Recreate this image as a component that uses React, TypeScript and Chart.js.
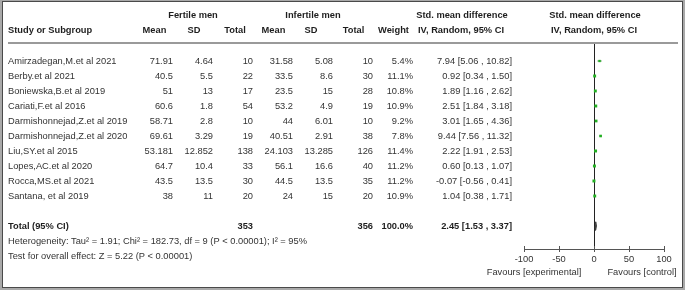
import React, { useEffect, useRef } from "react";
import { Chart, registerables } from "chart.js";
Chart.register(...registerables);

// ---- data ----
const studies = [
  "Amirzadegan,M.et al 2021",
  "Berby.et al 2021",
  "Boniewska,B.et al 2019",
  "Cariati,F.et al 2016",
  "Darmishonnejad,Z.et al 2019",
  "Darmishonnejad,Z.et al 2020",
  "Liu,SY.et al 2015",
  "Lopes,AC.et al 2020",
  "Rocca,MS.et al 2021",
  "Santana, et al 2019",
];
const fertMean = [71.91, 40.5, 51, 60.6, 58.71, 69.61, 53.181, 64.7, 43.5, 38];
const fertSD = [4.64, 5.5, 13, 1.8, 2.8, 3.29, 12.852, 10.4, 13.5, 11];
const fertN = [10, 22, 17, 54, 10, 19, 138, 33, 30, 20];
const infMean = [31.58, 33.5, 23.5, 53.2, 44, 40.51, 24.103, 56.1, 44.5, 24];
const infSD = [5.08, 8.6, 15, 4.9, 6.01, 2.91, 13.285, 16.6, 13.5, 15];
const infN = [10, 30, 28, 19, 10, 38, 126, 40, 35, 20];
const weights = [5.4, 11.1, 10.8, 10.9, 9.2, 7.8, 11.4, 11.2, 11.2, 10.9];
const smd = [7.94, 0.92, 1.89, 2.51, 3.01, 9.44, 2.22, 0.6, -0.07, 1.04];
const ciLow = [5.06, 0.34, 1.16, 1.84, 1.65, 7.56, 1.91, 0.13, -0.56, 0.38];
const ciHigh = [10.82, 1.5, 2.62, 3.18, 4.36, 11.32, 2.53, 1.07, 0.41, 1.71];

const totalFertN = 353;
const totalInfN = 356;
const totalWeight = 100.0;
const pooled = [2.45, 1.53, 3.37]; // estimate, low, high
const hetTau2 = 1.91;
const hetChi2 = 182.73;
const hetDf = 9;
const hetP = "P < 0.00001";
const hetI2 = 95;
const overallZ = 5.22;
const overallP = "P < 0.00001";
const xTicks = [-100, -50, 0, 50, 100];
const favourLabels = ["Favours [experimental]", "Favours [control]"];

const FONT = '"Liberation Sans", Arial, sans-serif';
const FS = 9.3;
const TEXT = "#333333";
const HEAD = "#1e1e1e";

const fmt2 = (v: number) => v.toFixed(2);
const ciText = (e: number, l: number, h: number) => `${fmt2(e)} [${fmt2(l)} , ${fmt2(h)}]`;

export default function App() {
  const ref = useRef<HTMLCanvasElement>(null);

  useEffect(() => {
    const canvas = ref.current;
    if (!canvas) return;

    const totalRow = studies.length + 1;

    const drawText = (
      ctx: CanvasRenderingContext2D,
      s: string,
      x: number,
      y: number,
      align: CanvasTextAlign,
      bold = false,
      color = TEXT
    ) => {
      ctx.font = `${bold ? "bold " : ""}${FS}px ${FONT}`;
      ctx.fillStyle = color;
      ctx.textAlign = align;
      ctx.textBaseline = "middle";
      ctx.fillText(s, x, y);
    };

    const tablePlugin = {
      id: "forestTable",
      beforeDraw(chart: any) {
        const ctx = chart.ctx as CanvasRenderingContext2D;
        ctx.save();
        ctx.fillStyle = "#a9a9a9";
        ctx.fillRect(0, 0, 685, 290);
        ctx.fillStyle = "#ffffff";
        ctx.fillRect(3, 2, 679, 285);
        ctx.strokeStyle = "#4a4a4a";
        ctx.lineWidth = 1;
        ctx.strokeRect(2.5, 1.5, 680, 286);
        // header rule
        ctx.fillStyle = "#9a9a9a";
        ctx.fillRect(8, 42, 670, 2);
        ctx.restore();
      },
      afterDraw(chart: any) {
        const ctx = chart.ctx as CanvasRenderingContext2D;
        const ys = chart.scales.y;
        const xs = chart.scales.x;
        ctx.save();

        // headers
        drawText(ctx, "Fertile men", 193, 15, "center", true, HEAD);
        drawText(ctx, "Infertile men", 313, 15, "center", true, HEAD);
        drawText(ctx, "Std. mean difference", 462, 15, "center", true, HEAD);
        drawText(ctx, "Std. mean difference", 595, 15, "center", true, HEAD);
        drawText(ctx, "Study or Subgroup", 8, 30, "left", true, HEAD);
        const hdr = ["Mean", "SD", "Total", "Mean", "SD", "Total", "Weight"];
        const hdrX = [154.5, 194, 235, 273.5, 311, 353.5, 393.5];
        hdr.forEach((h, i) => drawText(ctx, h, hdrX[i], 30, "center", true, HEAD));
        drawText(ctx, "IV, Random, 95% CI", 461, 30, "center", true, HEAD);
        drawText(ctx, "IV, Random, 95% CI", 594, 30, "center", true, HEAD);

        // study rows
        const colR = [173, 213, 253, 293, 333, 373, 413, 512];
        studies.forEach((name, i) => {
          const y = ys.getPixelForValue(i);
          drawText(ctx, name, 8, y, "left");
          const cells = [
            String(fertMean[i]),
            String(fertSD[i]),
            String(fertN[i]),
            String(infMean[i]),
            String(infSD[i]),
            String(infN[i]),
            weights[i].toFixed(1) + "%",
            ciText(smd[i], ciLow[i], ciHigh[i]),
          ];
          cells.forEach((c, j) => drawText(ctx, c, colR[j], y, "right"));
        });

        // total row
        const ty = ys.getPixelForValue(totalRow);
        drawText(ctx, "Total (95% CI)", 8, ty, "left", true, HEAD);
        drawText(ctx, String(totalFertN), colR[2], ty, "right", true, HEAD);
        drawText(ctx, String(totalInfN), colR[5], ty, "right", true, HEAD);
        drawText(ctx, totalWeight.toFixed(1) + "%", colR[6], ty, "right", true, HEAD);
        drawText(ctx, ciText(pooled[0], pooled[1], pooled[2]), colR[7], ty, "right", true, HEAD);

        drawText(
          ctx,
          `Heterogeneity: Tau\u00b2 = ${hetTau2}; Chi\u00b2 = ${hetChi2}, df = ${hetDf} (${hetP}); I\u00b2 = ${hetI2}%`,
          8,
          ys.getPixelForValue(totalRow + 1),
          "left"
        );
        drawText(
          ctx,
          `Test for overall effect: Z = ${overallZ} (${overallP})`,
          8,
          ys.getPixelForValue(totalRow + 2),
          "left"
        );

        // axis tick marks straddling the axis line
        const by = chart.chartArea.bottom;
        ctx.strokeStyle = "#555555";
        ctx.lineWidth = 1;
        xs.ticks.forEach((t: any) => {
          const px = Math.round(xs.getPixelForValue(t.value)) + 0.5;
          ctx.beginPath();
          ctx.moveTo(px, by - 3);
          ctx.lineTo(px, by + 3);
          ctx.stroke();
        });

        drawText(ctx, favourLabels[0], 534, 272, "center");
        drawText(ctx, favourLabels[1], 642, 272, "center");
        ctx.restore();
      },
    };

    const ciDatasets = studies.map((_, i) => ({
      type: "line" as const,
      data: [
        { x: ciLow[i], y: i },
        { x: ciHigh[i], y: i },
      ],
      borderColor: "#3f7f3f",
      borderWidth: 1,
      pointRadius: 0,
      showLine: true,
      fill: false,
      order: 2,
    }));

    const chart = new Chart(canvas, {
      type: "scatter",
      data: {
        datasets: [
          ...ciDatasets,
          {
            type: "scatter" as const,
            data: smd.map((v, i) => ({ x: v, y: i })),
            pointStyle: "rect",
            pointRadius: weights.map((w) => 1.2 + w * 0.08),
            backgroundColor: "#22b022",
            borderWidth: 0,
            order: 1,
          },
          {
            type: "line" as const,
            data: [
              { x: pooled[1], y: totalRow },
              { x: pooled[0], y: totalRow - 0.28 },
              { x: pooled[2], y: totalRow },
              { x: pooled[0], y: totalRow + 0.28 },
              { x: pooled[1], y: totalRow },
            ],
            borderColor: "#333333",
            backgroundColor: "#555555",
            borderWidth: 1,
            pointRadius: 0,
            showLine: true,
            fill: "shape",
            order: 0,
          },
        ] as any,
      },
      options: {
        responsive: false,
        animation: false,
        devicePixelRatio: 1,
        events: [],
        layout: { padding: { left: 524, right: 21, top: 44, bottom: 0 } },
        plugins: { legend: { display: false }, tooltip: { enabled: false } },
        scales: {
          x: {
            type: "linear",
            min: -100,
            max: 100,
            afterFit: (scale: any) => {
              scale.height = 41;
            },
            afterBuildTicks: (scale: any) => {
              scale.ticks = xTicks.map((v) => ({ value: v }));
            },
            ticks: {
              padding: 5,
              color: TEXT,
              font: { family: FONT, size: FS },
              maxRotation: 0,
              autoSkip: false,
            },
            grid: {
              drawTicks: false,
              lineWidth: 1,
              color: (c: any) => (c.tick && c.tick.value === 0 ? "#222222" : "rgba(0,0,0,0)"),
            },
            border: { display: true, color: "#555555", width: 1 },
          },
          y: {
            type: "linear",
            display: false,
            reverse: true,
            min: -17 / 15,
            max: -17 / 15 + 205 / 15,
          },
        },
      } as any,
      plugins: [tablePlugin],
    });

    return () => chart.destroy();
  }, []);

  return (
    <div style={{ position: "absolute", left: 0, top: 0, width: 685, height: 290 }}>
      <canvas ref={ref} width={685} height={290} style={{ display: "block", width: 685, height: 290 }} />
    </div>
  );
}
